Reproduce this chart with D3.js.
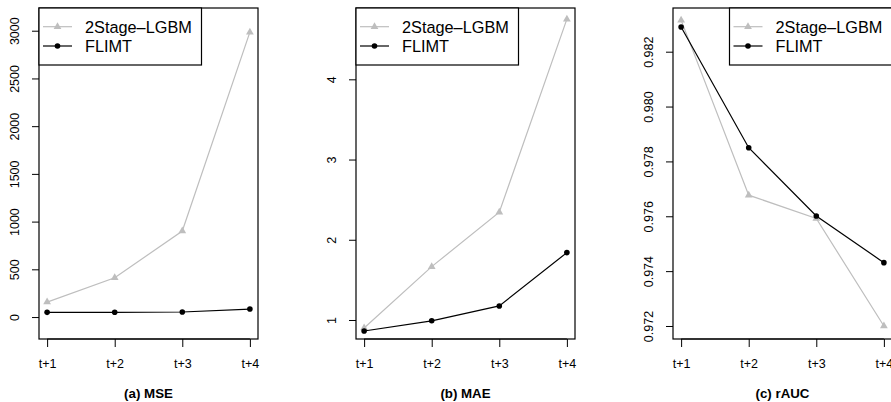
<!DOCTYPE html>
<meta charset="utf-8">
<script src="https://d3js.org/d3.v7.min.js"></script>
<style type="text/css">
body { margin: 0; background: #fff; }
svg { display: block; font-family: "Liberation Sans", Arial, sans-serif; }
svg text { font-family: "Liberation Sans", Arial, sans-serif; }
</style>
<body>
</body>
<script>

  var categories = ["t+1", "t+2", "t+3", "t+4"];
  var seriesNames = ["2Stage\u2013LGBM", "FLIMT"];

  var mse2Stage = [157, 412, 901, 2985];
  var mseFlimt  = [49, 50, 53, 84];

  var mae2Stage = [0.90, 1.665, 2.343, 4.75];
  var maeFlimt  = [0.863, 0.99, 1.175, 1.84];

  var rauc2Stage = [0.98315, 0.97677, 0.97592, 0.97200];
  var raucFlimt  = [0.98290, 0.97850, 0.97601, 0.97431];

  var mseTicks  = [0, 500, 1000, 1500, 2000, 2500, 3000];
  var maeTicks  = [1, 2, 3, 4];
  var raucTicks = [0.972, 0.974, 0.976, 0.978, 0.980, 0.982];

  var panels = [
    {title: "(a) MSE",  a: mse2Stage,  b: mseFlimt,  ticks: mseTicks,  dom: [-230, 3238],        fmt: d3.format("d"),   legend: "left"},
    {title: "(b) MAE",  a: mae2Stage,  b: maeFlimt,  ticks: maeTicks,  dom: [0.763, 4.889],      fmt: d3.format("d"),   legend: "left"},
    {title: "(c) rAUC", a: rauc2Stage, b: raucFlimt, ticks: raucTicks, dom: [0.971526, 0.983593], fmt: d3.format(".3f"), legend: "right"}
  ];

  var W = 891, H = 402;
  var grey = "#bebebe";
  var boxW = 219, boxTop = 8, boxBottom = 339, panelStep = 317, left0 = 39;

  var svg = d3.select("body").append("svg")
      .attr("width", W)
      .attr("height", H);

  panels.forEach(function(p, i) {
    var x0 = left0 + i * panelStep;
    var g = svg.append("g").attr("transform", "translate(" + x0 + ",0)");

    var x = d3.scalePoint().domain(categories).range([0, boxW]).padding(0.12);
    var y = d3.scaleLinear().domain(p.dom).range([boxBottom, boxTop]);

    // y axis
    var ya = g.append("g")
      .call(d3.axisLeft(y).tickValues(p.ticks).tickSize(7).tickFormat(p.fmt))
      .attr("font-family", null).attr("font-size", null);
    ya.select(".domain").remove();
    ya.selectAll("line").attr("stroke", "#000");
    ya.selectAll("text")
      .attr("transform", "rotate(-90)")
      .attr("x", 0).attr("y", -19.8).attr("dy", null)
      .attr("text-anchor", "middle")
      .attr("fill", "#000")
      .style("font-size", "12.5px");

    // x axis
    var xa = g.append("g")
      .attr("transform", "translate(0," + boxBottom + ")")
      .call(d3.axisBottom(x).tickSize(8))
      .attr("font-family", null).attr("font-size", null);
    xa.select(".domain").remove();
    xa.selectAll("line").attr("stroke", "#000");
    xa.selectAll("text")
      .attr("y", 28.5).attr("dy", null)
      .attr("fill", "#000")
      .style("font-size", "12.5px");

    // x axis line between first and last tick
    g.append("line")
      .attr("x1", x(categories[0])).attr("x2", x(categories[categories.length - 1]))
      .attr("y1", boxBottom).attr("y2", boxBottom)
      .attr("stroke", "#000");

    var line = d3.line()
      .x(function(d, k) { return x(categories[k]); })
      .y(function(d) { return y(d); });

    g.append("path").datum(p.a)
      .attr("d", line).attr("fill", "none")
      .attr("stroke", grey).attr("stroke-width", 1.2);
    g.selectAll(".tri").data(p.a).enter().append("path")
      .attr("class", "tri")
      .attr("d", d3.symbol().type(d3.symbolTriangle).size(26))
      .attr("transform", function(d, k) { return "translate(" + x(categories[k]) + "," + y(d) + ")"; })
      .attr("fill", grey);

    g.append("path").datum(p.b)
      .attr("d", line).attr("fill", "none")
      .attr("stroke", "#000").attr("stroke-width", 1.2);
    g.selectAll(".dot").data(p.b).enter().append("circle")
      .attr("class", "dot")
      .attr("cx", function(d, k) { return x(categories[k]); })
      .attr("cy", function(d) { return y(d); })
      .attr("r", 2.8)
      .attr("fill", "#000");

    // box
    g.append("rect")
      .attr("x", 0).attr("y", boxTop)
      .attr("width", boxW).attr("height", boxBottom - boxTop)
      .attr("fill", "none").attr("stroke", "#000").attr("stroke-width", 1.2);

    // legend
    var lw = 162.5, lh = 57;
    var lx = p.legend === "left" ? 0 : boxW - lw;
    var lg = g.append("g").attr("transform", "translate(" + lx + "," + boxTop + ")");
    lg.append("rect")
      .attr("width", lw).attr("height", lh)
      .attr("fill", "#fff").attr("stroke", "#000").attr("stroke-width", 1.2);
    [0, 1].forEach(function(r) {
      var cy = 18.7 + r * 19.3;
      var col = r === 0 ? grey : "#000";
      lg.append("line")
        .attr("x1", 4).attr("x2", 33).attr("y1", cy).attr("y2", cy)
        .attr("stroke", col).attr("stroke-width", 1.2);
      if (r === 0) {
        lg.append("path")
          .attr("d", d3.symbol().type(d3.symbolTriangle).size(26))
          .attr("transform", "translate(18.5," + cy + ")")
          .attr("fill", col);
      } else {
        lg.append("circle").attr("cx", 18.5).attr("cy", cy).attr("r", 2.8).attr("fill", col);
      }
      lg.append("text")
        .attr("x", 46).attr("y", cy + 5.8)
        .style("font-size", "16.3px")
        .text(seriesNames[r]);
    });

    // title
    g.append("text")
      .attr("x", boxW / 2).attr("y", 397.5)
      .attr("text-anchor", "middle")
      .style("font-size", "13.3px").style("font-weight", "bold")
      .text(p.title);
  });

</script>
